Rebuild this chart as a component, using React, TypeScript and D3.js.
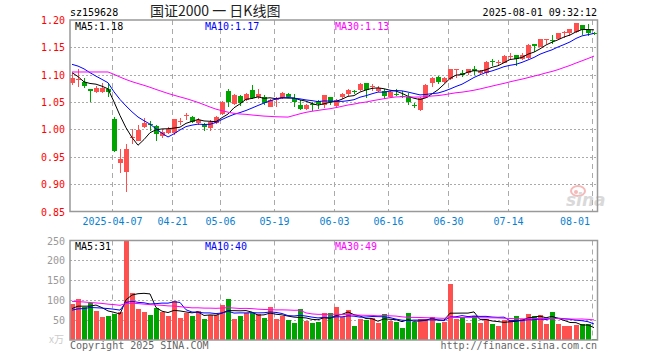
import React from 'react';
import * as d3 from 'd3';

const dates = [
  '2025-03-26','2025-03-27','2025-03-28','2025-03-31',
  '2025-04-01','2025-04-02','2025-04-03','2025-04-07','2025-04-08','2025-04-09','2025-04-10','2025-04-11',
  '2025-04-14','2025-04-15','2025-04-16','2025-04-17','2025-04-18','2025-04-21','2025-04-22','2025-04-23',
  '2025-04-24','2025-04-25','2025-04-28','2025-04-29','2025-04-30',
  '2025-05-06','2025-05-07','2025-05-08','2025-05-09','2025-05-12','2025-05-13','2025-05-14','2025-05-15',
  '2025-05-16','2025-05-19','2025-05-20','2025-05-21','2025-05-22','2025-05-23','2025-05-26','2025-05-27',
  '2025-05-28','2025-05-29','2025-05-30',
  '2025-06-03','2025-06-04','2025-06-05','2025-06-06','2025-06-09','2025-06-10','2025-06-11','2025-06-12',
  '2025-06-13','2025-06-16','2025-06-17','2025-06-18','2025-06-19','2025-06-20','2025-06-23','2025-06-24',
  '2025-06-25','2025-06-26','2025-06-27','2025-06-30',
  '2025-07-01','2025-07-02','2025-07-03','2025-07-04','2025-07-07','2025-07-08','2025-07-09','2025-07-10',
  '2025-07-11','2025-07-14','2025-07-15','2025-07-16','2025-07-17','2025-07-18','2025-07-21','2025-07-22',
  '2025-07-23','2025-07-24','2025-07-25','2025-07-28','2025-07-29','2025-07-30','2025-07-31','2025-08-01',
];

const open = [
  1.0855, 1.092, 1.0866, 1.0733, 1.069, 1.069, 1.0733, 1.0184, 0.9378, 0.922,
  0.986, 0.9787, 1.005, 1.010, 1.0061, 0.9878, 0.994, 0.9927, 1.014, 1.024,
  1.0233, 1.012, 1.0105, 1.003, 1.012, 1.0288, 1.0702, 1.0458, 1.061, 1.0537,
  1.072, 1.060, 1.060, 1.041, 1.054, 1.058, 1.064, 1.058, 1.044, 1.0367,
  1.047, 1.052, 1.0445, 1.059, 1.0427, 1.059, 1.064, 1.071, 1.0714, 1.0842,
  1.078, 1.0705, 1.0705, 1.060, 1.065, 1.0605, 1.060, 1.045, 1.0348, 1.058,
  1.0855, 1.0958, 1.0873, 1.0928, 1.109, 1.1038, 1.1025, 1.110, 1.104, 1.1025,
  1.125, 1.1225, 1.122, 1.134, 1.1355, 1.1295, 1.1313, 1.1556, 1.1513, 1.163,
  1.163, 1.165, 1.177, 1.177, 1.178, 1.190, 1.182, 1.1765,
];
const high = [
  1.104, 1.110, 1.0947, 1.0733, 1.0793, 1.0855, 1.0855, 1.0233, 0.965, 0.9726,
  1.000, 1.009, 1.0215, 1.015, 1.008, 1.000, 1.005, 1.019, 1.0215, 1.0306,
  1.025, 1.020, 1.012, 1.0165, 1.025, 1.052, 1.0733, 1.064, 1.063, 1.067,
  1.0806, 1.073, 1.063, 1.056, 1.059, 1.069, 1.066, 1.064, 1.0537, 1.046,
  1.050, 1.053, 1.063, 1.059, 1.056, 1.0666, 1.073, 1.072, 1.084, 1.085,
  1.0837, 1.079, 1.073, 1.0705, 1.073, 1.0705, 1.067, 1.049, 1.060, 1.0824,
  1.0965, 1.0977, 1.095, 1.111, 1.111, 1.108, 1.111, 1.116, 1.108, 1.1246,
  1.129, 1.127, 1.136, 1.139, 1.136, 1.140, 1.156, 1.1556, 1.166, 1.166,
  1.172, 1.176, 1.180, 1.184, 1.195, 1.190, 1.192, 1.178,
];
const low = [
  1.082, 1.077, 1.075, 1.050, 1.066, 1.067, 1.060, 0.9585, 0.921, 0.8853,
  0.9735, 0.978, 1.003, 0.997, 0.9787, 0.985, 0.991, 0.990, 1.009, 1.017,
  1.011, 1.009, 0.998, 0.997, 1.010, 1.027, 1.0409, 1.044, 1.042, 1.052,
  1.056, 1.055, 1.045, 1.041, 1.041, 1.056, 1.058, 1.041, 1.0356, 1.035,
  1.0336, 1.037, 1.0385, 1.044, 1.0407, 1.056, 1.062, 1.064, 1.0705, 1.058,
  1.0705, 1.068, 1.056, 1.058, 1.061, 1.058, 1.0445, 1.040, 1.0336, 1.057,
  1.078, 1.0837, 1.085, 1.091, 1.0946, 1.0965, 1.100, 1.100, 1.102, 1.100,
  1.116, 1.116, 1.121, 1.128, 1.116, 1.127, 1.129, 1.142, 1.150, 1.157,
  1.157, 1.163, 1.168, 1.171, 1.177, 1.172, 1.170, 1.172,
];
const close = [
  1.0946, 1.093, 1.0793, 1.0702, 1.0764, 1.076, 1.069, 0.9604, 0.9452, 0.9647,
  0.987, 0.9982, 1.0123, 1.008, 0.9909, 0.9951, 1.000, 1.0184, 1.016, 1.026,
  1.0134, 1.017, 1.005, 1.013, 1.0225, 1.050, 1.050, 1.0623, 1.049, 1.064,
  1.058, 1.064, 1.049, 1.054, 1.056, 1.067, 1.060, 1.050, 1.0367, 1.0445,
  1.045, 1.046, 1.0623, 1.050, 1.053, 1.065, 1.072, 1.069, 1.0824, 1.072,
  1.080, 1.0764, 1.061, 1.069, 1.064, 1.059, 1.050, 1.043, 1.0568, 1.0806,
  1.0947, 1.0873, 1.0934, 1.1099, 1.111, 1.100, 1.1099, 1.106, 1.106, 1.123,
  1.123, 1.124, 1.134, 1.135, 1.1295, 1.1355, 1.1538, 1.1525, 1.1648, 1.165,
  1.161, 1.1757, 1.178, 1.183, 1.194, 1.182, 1.176, 1.175,
];
// 万手
const volume = [
  90, 102.5, 82, 92, 72.5, 57.5, 61, 65, 70, 252,
  117, 77.5, 70, 62.5, 81, 71, 60, 98, 55, 68,
  60, 72.5, 52.5, 62, 64, 87.5, 102.5, 52.5, 60, 67,
  68, 65, 56, 82, 52.5, 60, 50, 43, 77, 47.5,
  42, 45, 69, 69, 82, 57, 75, 35, 52.5, 50,
  55, 43, 65, 47.5, 45, 30, 67.5, 45, 52.5, 52.5,
  57, 42.5, 45, 140, 52.5, 58, 42.5, 60, 42.5, 54,
  40, 35, 50, 50, 60, 52.5, 65, 60, 62, 40,
  70, 40, 35, 35, 38, 40, 40, 2.5,
];
// history before the first visible day (needed by the moving averages)
const priorClose = [
  1.093, 1.079, 1.070, 1.076, 1.076, 1.069,
  1.09, 1.095, 1.10, 1.105, 1.10, 1.11, 1.115, 1.11, 1.105, 1.11, 1.115, 1.11, 1.115, 1.117,
  1.125, 1.13, 1.14, 1.14, 1.135,
  1.13, 1.127, 1.085, 1.083,
];
const priorVolume = [
  120, 110, 130, 105, 95, 115, 100, 125, 110, 98, 105, 112, 100, 108, 96, 104, 110, 102, 115, 100,
  70, 75, 65, 78, 67,
  72.5, 82, 92, 58.5,
];

const tickDates = ['2025-04-07','2025-04-21','2025-05-06','2025-05-19','2025-06-03','2025-06-16','2025-06-30','2025-07-14','2025-08-01'];
const priceTicks = [0.85, 0.90, 0.95, 1.00, 1.05, 1.10, 1.15, 1.20];
const volTicks = [50, 100, 150, 200, 250];
const maPeriods = [5, 10, 30];
const maColors = ['#000000', '#0000ff', '#ff00ff'];
const priceMaText = ['1.18', '1.17', '1.13'];
const volMaText = ['31', '40', '49'];

const RED = '#ff5050';
const GREEN = '#00a400';
const MONO = '"DejaVu Sans Mono", "Liberation Mono", monospace';

function movingAvg(prior: number[], vals: number[], n: number): number[] {
  const all = prior.concat(vals);
  const off = prior.length;
  return vals.map((_, i) => {
    const end = i + off;
    return d3.mean(all.slice(end - n + 1, end + 1)) as number;
  });
}

export default function App() {
  const L = 70, R = 597.5;
  const mainTop = 20, mainBot = 211.5;
  const volTop = 240.5, volBot = 340;
  const n = dates.length;
  const x = d3.scaleLinear().domain([0, n - 1]).range([72, 594]);
  const y = d3.scaleLinear().domain([0.85, 1.2]).range([mainBot, mainTop]);
  const yv = d3.scaleLinear().domain([0, 250]).range([volBot, volTop]).clamp(true);

  const priceMA = maPeriods.map(p => movingAvg(priorClose, close, p));
  const volMA = maPeriods.map(p => movingAvg(priorVolume, volume, p));
  const lineP = d3.line<number>().x((_, i) => x(i)).y(d => y(d));
  const lineV = d3.line<number>().x((_, i) => x(i)).y(d => yv(d));

  const gridX = tickDates.map(t => Math.floor(x(dates.indexOf(t))) - 1.5);
  const up = (i: number) => close[i] >= open[i];

  return (
    <svg width={660} height={360} style={{ position: 'absolute', left: 0, top: 0, background: '#fff' }}
      fontFamily={MONO}>
      <rect x={0} y={0} width={660} height={360} fill="#fff" />
      {/* header */}
      <text x={70} y={16} fontSize={10} fill="#000">sz159628</text>
      <text x={150} y={16} fontSize={14} fill="#222" fontFamily='"Noto Sans CJK SC", sans-serif'>国证2000 一 日K线图</text>
      <text x={597} y={16} fontSize={10} fill="#000" textAnchor="end">2025-08-01 09:32:12</text>

      <defs>
        <clipPath id="mainClip"><rect x={L} y={mainTop} width={R - L} height={mainBot - mainTop} /></clipPath>
        <clipPath id="volClip"><rect x={L} y={volTop} width={R - L} height={volBot - volTop} /></clipPath>
      </defs>

      {/* price grid */}
      {priceTicks.slice(1, -1).map(t => (
        <line key={'pg' + t} x1={L} x2={R} y1={Math.round(y(t)) + 0.5} y2={Math.round(y(t)) + 0.5}
          stroke="#aaa" strokeDasharray="2,2" />
      ))}
      {volTicks.slice(0, -1).map(t => (
        <line key={'vg' + t} x1={L} x2={R} y1={Math.round(yv(t)) + 0.5} y2={Math.round(yv(t)) + 0.5}
          stroke="#aaa" strokeDasharray="2,2" />
      ))}
      {gridX.map((gx, i) => (
        <g key={'vx' + i}>
          <line x1={gx} x2={gx} y1={mainTop} y2={mainBot} stroke="#aaa" strokeDasharray="5,4" />
          <line x1={gx} x2={gx} y1={volTop} y2={volBot} stroke="#aaa" strokeDasharray="5,4" />
        </g>
      ))}

      {/* sina watermark */}
      <g opacity={0.55}>
        <ellipse cx={578} cy={191} rx={7} ry={5} fill="none" stroke="#f08080" strokeWidth={2} />
        <circle cx={576} cy={192} r={2} fill="#f08080" />
        <text x={566} y={206} fontSize={17} fontStyle="italic" fontWeight="bold" fill="#bbb"
          fontFamily='"DejaVu Sans", sans-serif'>sina</text>
      </g>

      {/* candles */}
      <g clipPath="url(#mainClip)">
        {close.map((c, i) => {
          const cx = Math.floor(x(i));
          const col = up(i) ? RED : GREEN;
          const top = Math.round(y(Math.max(open[i], c)));
          const bot = Math.round(y(Math.min(open[i], c)));
          return (
            <g key={'c' + i}>
              <line x1={cx + 0.5} x2={cx + 0.5} y1={Math.round(y(high[i]))} y2={Math.round(y(low[i]))} stroke={col} />
              <rect x={cx - 2} y={top} width={5} height={Math.max(1, bot - top)} fill={col} />
            </g>
          );
        })}
        {priceMA.map((m, j) => (
          <path key={'pm' + j} d={lineP(m) || ''} fill="none" stroke={maColors[j]} strokeWidth={1} />
        ))}
      </g>

      {/* volume */}
      <g clipPath="url(#volClip)">
        {volume.map((v, i) => {
          const cx = Math.floor(x(i));
          const t = Math.round(yv(v));
          return <rect key={'v' + i} x={cx - 2} y={t} width={5} height={volBot - t} fill={up(i) ? RED : GREEN} />;
        })}
        {volMA.map((m, j) => (
          <path key={'vm' + j} d={lineV(m) || ''} fill="none" stroke={maColors[j]} strokeWidth={1} />
        ))}
      </g>

      {/* frames */}
      <rect x={L} y={mainTop} width={R - L} height={mainBot - mainTop} fill="none" stroke="#999" strokeWidth={1.5} />
      <rect x={L} y={volTop} width={R - L} height={volBot - volTop} fill="none" stroke="#999" strokeWidth={1.5} />

      {/* price axis labels */}
      {priceTicks.map(t => (
        <text key={'pl' + t} x={65} y={y(t) + 4} fontSize={10} fill="#f00" textAnchor="end">{t.toFixed(2)}</text>
      ))}
      {volTicks.map(t => (
        <text key={'vl' + t} x={65} y={yv(t) + 4} fontSize={10} fill="#999" textAnchor="end">{t}</text>
      ))}
      <text x={64} y={343} fontSize={10} fill="#ccc" textAnchor="end" fontFamily='"Noto Sans CJK SC", sans-serif'>x万</text>

      {/* date labels */}
      {tickDates.map((t, i) => {
        const gx = gridX[i];
        const label = i === 0 ? t : t.slice(5);
        const last = i === tickDates.length - 1;
        return (
          <text key={'dl' + t} x={last ? 590 : gx} y={225} fontSize={10} fill="#0a7fd0"
            textAnchor={last ? 'end' : 'middle'}>{label}</text>
        );
      })}

      {/* MA legends */}
      {maPeriods.map((p, j) => (
        <text key={'pt' + p} x={75 + j * 130} y={30} fontSize={10} fill={maColors[j]}>{`MA${p}:${priceMaText[j]}`}</text>
      ))}
      {maPeriods.map((p, j) => (
        <text key={'vt' + p} x={75 + j * 130} y={250} fontSize={10} fill={maColors[j]}>{`MA${p}:${volMaText[j]}`}</text>
      ))}

      {/* footer */}
      <text x={70} y={349} fontSize={10} fill="#666">Copyright 2025 SINA.COM</text>
      <text x={597} y={349} fontSize={10} fill="#666" textAnchor="end">http://finance.sina.com.cn</text>
    </svg>
  );
}
